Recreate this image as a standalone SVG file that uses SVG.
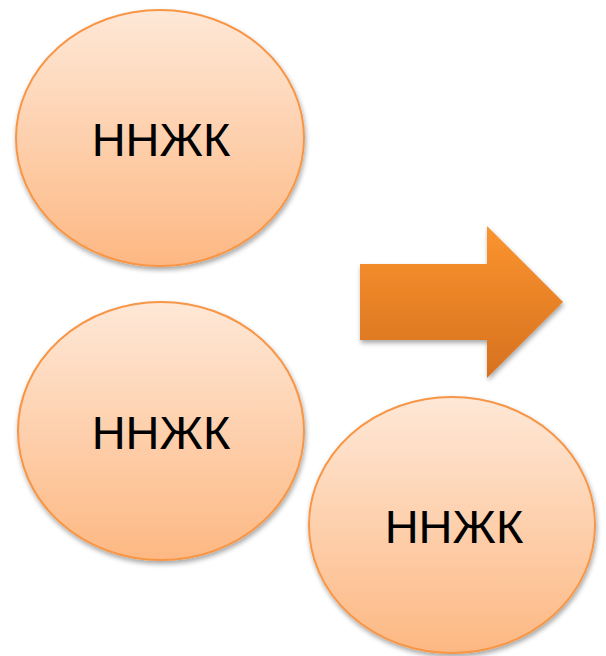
<svg xmlns="http://www.w3.org/2000/svg" width="606" height="656" viewBox="0 0 606 656">
  <defs>
    <linearGradient id="bubbleFill" x1="0" y1="0" x2="0" y2="1">
      <stop offset="0" stop-color="#fee8d7"/>
      <stop offset="1" stop-color="#fdb883"/>
    </linearGradient>
    <linearGradient id="arrowFill" x1="0" y1="0" x2="0" y2="1">
      <stop offset="0" stop-color="#fb942f"/>
      <stop offset="1" stop-color="#d6711f"/>
    </linearGradient>
    <filter id="shadow" x="-10%" y="-10%" width="125%" height="125%">
      <feGaussianBlur in="SourceAlpha" stdDeviation="2.5"/>
      <feOffset dx="1" dy="3" result="b"/>
      <feComponentTransfer><feFuncA type="linear" slope="0.35"/></feComponentTransfer>
      <feMerge><feMergeNode/><feMergeNode in="SourceGraphic"/></feMerge>
    </filter>
  </defs>
  <style>
    .bubble { fill: url(#bubbleFill); stroke: #f79646; stroke-width: 2; filter: url(#shadow); }
    .label { font-family: "Liberation Sans", Arial, sans-serif; font-size: 47px; fill: #000; text-anchor: middle; }
  </style>
  <rect width="606" height="656" fill="#ffffff"/>

  <g id="node-top">
    <ellipse class="bubble" cx="160" cy="138" rx="144" ry="128"/>
    <text class="label" x="161" y="156">ННЖК</text>
  </g>

  <g id="node-middle">
    <ellipse class="bubble" cx="161" cy="431" rx="143" ry="129"/>
    <text class="label" x="161" y="449">ННЖК</text>
  </g>

  <g id="node-result">
    <ellipse class="bubble" cx="452" cy="525" rx="143" ry="128"/>
    <text class="label" x="454" y="543">ННЖК</text>
  </g>

  <g id="connectors">
    <path d="M360,264 H487 V226 L563,302 L487,378 V340 H360 Z" fill="url(#arrowFill)" filter="url(#shadow)"/>
  </g>
</svg>
